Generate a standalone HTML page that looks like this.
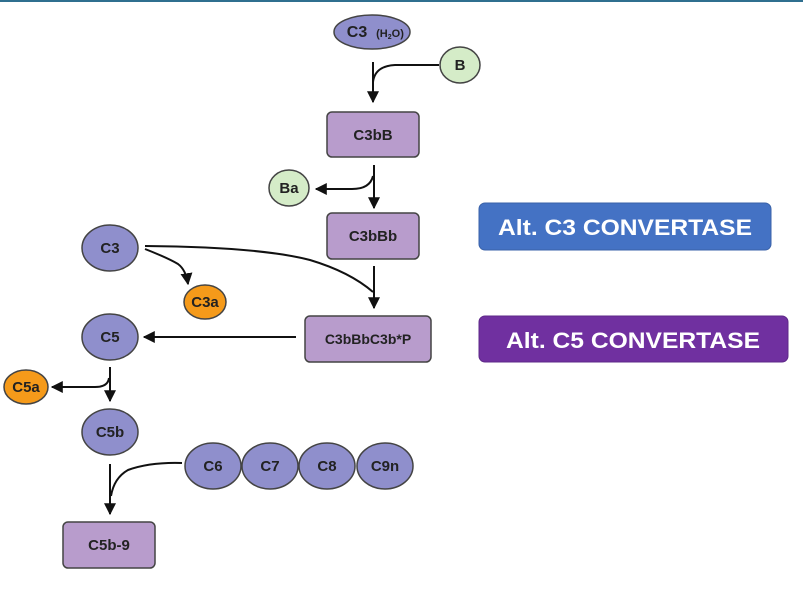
<!DOCTYPE html>
<html><head><meta charset="utf-8"><style>
html,body{margin:0;padding:0;background:#fff;}
svg{display:block;}
text{font-family:"Liberation Sans",Arial,sans-serif;}
</style></head><body>
<svg width="803" height="589" viewBox="0 0 803 589" xmlns="http://www.w3.org/2000/svg">
<defs>
<marker id="a" viewBox="0 0 10 10" refX="9" refY="5" markerWidth="6" markerHeight="6" orient="auto"><path d="M0,0 L10,5 L0,10 z" fill="#111"/></marker>
</defs>
<rect x="0" y="0" width="803" height="2" fill="#2f6f8f"/>
<g stroke="#111" stroke-width="2" fill="none">
<path d="M373,62 L373,102" marker-end="url(#a)"/>
<path d="M439,65 L395,65 Q375,66 373,82"/>
<path d="M374,165 L374,208" marker-end="url(#a)"/>
<path d="M373,176 Q370,189 352,189 L316,189" marker-end="url(#a)"/>
<path d="M374,266 L374,308" marker-end="url(#a)"/>
<path d="M145,246 Q260,247 310,260 Q350,272 373,292"/>
<path d="M145,249 Q168,258 178,264 Q186,270 188,284" marker-end="url(#a)"/>
<path d="M296,337 L144,337" marker-end="url(#a)"/>
<path d="M110,367 L110,401" marker-end="url(#a)"/>
<path d="M109,378 Q108,387 95,387 L52,387" marker-end="url(#a)"/>
<path d="M110,464 L110,514" marker-end="url(#a)"/>
<path d="M182,463 Q150,462 128,470 Q114,478 111,496"/>
</g>
<g stroke="#444" stroke-width="1.5">
<ellipse cx="372" cy="32" rx="38" ry="17" fill="#8f8fcc"/>
<ellipse cx="460" cy="65" rx="20" ry="18" fill="#d5ecc8"/>
<rect x="327" y="112" width="92" height="45" rx="5" fill="#b89ccc"/>
<ellipse cx="289" cy="188" rx="20" ry="18" fill="#d5ecc8"/>
<rect x="327" y="213" width="92" height="46" rx="5" fill="#b89ccc"/>
<ellipse cx="110" cy="248" rx="28" ry="23" fill="#8f8fcc"/>
<ellipse cx="205" cy="302" rx="21" ry="17" fill="#f59a1a"/>
<rect x="305" y="316" width="126" height="46" rx="5" fill="#b89ccc"/>
<ellipse cx="110" cy="337" rx="28" ry="23" fill="#8f8fcc"/>
<ellipse cx="26" cy="387" rx="22" ry="17" fill="#f59a1a"/>
<ellipse cx="110" cy="432" rx="28" ry="23" fill="#8f8fcc"/>
<ellipse cx="213" cy="466" rx="28" ry="23" fill="#8f8fcc"/>
<ellipse cx="270" cy="466" rx="28" ry="23" fill="#8f8fcc"/>
<ellipse cx="327" cy="466" rx="28" ry="23" fill="#8f8fcc"/>
<ellipse cx="385" cy="466" rx="28" ry="23" fill="#8f8fcc"/>
<rect x="63" y="522" width="92" height="46" rx="5" fill="#b89ccc"/>
</g>
<g font-size="15" font-weight="bold" fill="#222" text-anchor="middle">
<text x="357" y="37" font-size="16">C3</text><text x="390" y="37" font-size="11">(H<tspan font-size="7" dy="2">2</tspan><tspan dy="-2">O)</tspan></text>
<text x="460" y="70">B</text>
<text x="373" y="140">C3bB</text>
<text x="289" y="193">Ba</text>
<text x="373" y="241">C3bBb</text>
<text x="110" y="253">C3</text>
<text x="205" y="307">C3a</text>
<text x="368" y="344" font-size="14">C3bBbC3b*P</text>
<text x="110" y="342">C5</text>
<text x="26" y="392">C5a</text>
<text x="110" y="437">C5b</text>
<text x="213" y="471">C6</text>
<text x="270" y="471">C7</text>
<text x="327" y="471">C8</text>
<text x="385" y="471">C9n</text>
<text x="109" y="550">C5b-9</text>
</g>
<rect x="479" y="203" width="292" height="47" rx="6" fill="#4472c4" stroke="#3a62a8"/>
<rect x="479" y="316" width="309" height="46" rx="6" fill="#7030a0" stroke="#5e2888"/>
<g font-size="22" font-weight="bold" fill="#fff" text-anchor="middle">
<text x="625" y="235" textLength="254" lengthAdjust="spacingAndGlyphs">Alt. C3 CONVERTASE</text>
<text x="633" y="348" textLength="254" lengthAdjust="spacingAndGlyphs">Alt. C5 CONVERTASE</text>
</g>
</svg>
</body></html>
